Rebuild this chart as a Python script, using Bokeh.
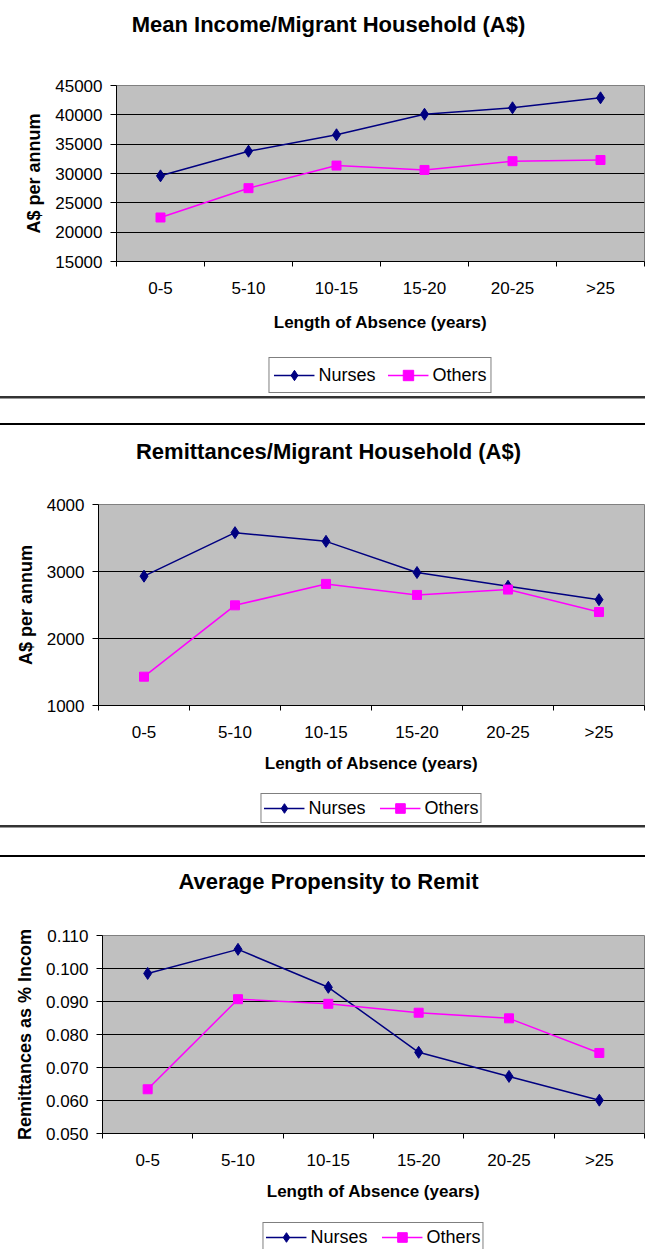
from bokeh.plotting import figure
from bokeh.models import (Range1d, FixedTicker, NumeralTickFormatter, Legend,
                          LegendItem, Div)
from bokeh.layouts import column
from bokeh.embed import file_html
from bokeh.resources import INLINE

# ---------------- data ----------------
categories = ["0-5", "5-10", "10-15", "15-20", "20-25", ">25"]
series_names = ["Nurses", "Others"]

income_nurses = [29600, 33800, 36600, 40100, 41200, 42900]
income_others = [22500, 27500, 31350, 30600, 32100, 32300]
income_ticks = [15000, 20000, 25000, 30000, 35000, 40000, 45000]

remit_nurses = [2930, 3580, 3450, 2985, 2780, 2580]
remit_others = [1430, 2495, 2815, 2650, 2730, 2395]
remit_ticks = [1000, 2000, 3000, 4000]

prop_nurses = [0.0985, 0.1058, 0.0943, 0.0746, 0.0673, 0.0601]
prop_others = [0.0634, 0.0907, 0.0893, 0.0866, 0.0849, 0.0744]
prop_ticks = [0.050, 0.060, 0.070, 0.080, 0.090, 0.100, 0.110]

chart_titles = ["Mean Income/Migrant Household (A$)",
                "Remittances/Migrant Household (A$)",
                "Average Propensity to Remit"]
y_titles = ["A$ per annum", "A$ per annum", "Remittances as % Incom"]
x_title = "Length of Absence (years)"

FONT = "Liberation Sans"
NAVY = "#000080"
MAGENTA = "#FF00FF"
W = 645
AXIS_SPACE = 72


def style_lines(p, xs, nurses, others):
    l1 = p.line(xs, nurses, line_color=NAVY, line_width=1.5)
    s1 = p.scatter(xs, nurses, marker="diamond", size=12,
                   fill_color=NAVY, line_color=NAVY)
    l2 = p.line(xs, others, line_color=MAGENTA, line_width=1.5)
    s2 = p.scatter(xs, others, marker="square", size=9,
                   fill_color=MAGENTA, line_color=MAGENTA)
    return l1, s1, l2, s2


def title_div(text, h):
    html = (f'<div style="width:645px;height:{h}px;line-height:{h}px;'
            'text-align:center;white-space:nowrap;font-family:Liberation Sans;'
            'font-weight:bold;font-size:22px;color:#000;">'
            f'<span style="position:relative;left:6px">{text}</span></div>')
    return Div(text=html, width=W, height=h, margin=0, disable_math=True)


def make_chart(ytitle, nurses, others, ticks, fmt, title_h,
               frame_left, frame_top, frame_bottom, xlabel_standoff):
    n = len(categories)
    xs = [i + 0.5 for i in range(n)]
    p = figure(width=W, height=frame_bottom - title_h + AXIS_SPACE,
               x_range=Range1d(0, n),
               y_range=Range1d(ticks[0], ticks[-1]),
               output_backend="svg", toolbar_location=None,
               min_border_left=frame_left, min_border_right=1,
               min_border_top=frame_top - title_h,
               min_border_bottom=AXIS_SPACE,
               background_fill_color="#C0C0C0", border_fill_color="white",
               outline_line_color="#808080", outline_line_width=1)
    p.frame_align = False
    p.title.visible = False
    p.title.standoff = 0

    # x axis: labels at category centres, tick marks at category boundaries
    xa = p.xaxis[0]
    xa.ticker = FixedTicker(ticks=xs, minor_ticks=list(range(n + 1)))
    xa.major_label_overrides = {x: c for x, c in zip(xs, categories)}
    xa.major_tick_line_color = None
    xa.major_tick_out = 0
    xa.major_tick_in = 0
    xa.minor_tick_line_color = "black"
    xa.minor_tick_out = 5
    xa.minor_tick_in = 0
    xa.axis_line_color = "black"
    xa.major_label_text_font = FONT
    xa.major_label_text_font_size = "17px"
    xa.major_label_text_color = "black"
    xa.major_label_standoff = 12
    xa.axis_label = x_title
    xa.axis_label_text_font = FONT
    xa.axis_label_text_font_style = "bold"
    xa.axis_label_text_font_size = "17px"
    xa.axis_label_text_color = "black"
    xa.axis_label_standoff = xlabel_standoff

    ya = p.yaxis[0]
    ya.ticker = FixedTicker(ticks=ticks, minor_ticks=[])
    if fmt:
        ya.formatter = NumeralTickFormatter(format=fmt)
    ya.major_tick_out = 6
    ya.major_tick_in = 0
    ya.major_tick_line_color = "black"
    ya.axis_line_color = "black"
    ya.major_label_text_font = FONT
    ya.major_label_text_font_size = "17px"
    ya.major_label_text_color = "black"
    ya.major_label_standoff = 8
    ya.axis_label = ytitle
    ya.axis_label_text_font = FONT
    ya.axis_label_text_font_style = "bold"
    ya.axis_label_text_font_size = "18px"
    ya.axis_label_text_color = "black"
    ya.axis_label_standoff = 8

    p.xgrid.grid_line_color = None
    p.ygrid.ticker = FixedTicker(ticks=ticks)
    p.ygrid.grid_line_color = "black"
    p.ygrid.grid_line_width = 1

    style_lines(p, xs, nurses, others)
    return p


def make_legend(block_h, frame_left, frame_bottom, legend_top, pad,
                glyph_h, spacing, nurses, others):
    n = len(categories)
    xs = [i + 0.5 for i in range(n)]
    top = frame_bottom + AXIS_SPACE
    # the series are drawn outside this strip's visible range; only the
    # legend (which uses their styles) shows
    lp = figure(width=W, height=block_h - top, x_range=Range1d(-2, -1),
                y_range=Range1d(-2, -1), output_backend="svg",
                toolbar_location=None, x_axis_location=None,
                y_axis_location=None, min_border_left=frame_left,
                min_border_right=1, min_border_top=0, min_border_bottom=0,
                outline_line_color=None, background_fill_color="white",
                border_fill_color="white")
    lp.frame_align = False
    lp.title.visible = False
    lp.xgrid.visible = False
    lp.ygrid.visible = False
    l1, s1, l2, s2 = style_lines(lp, xs, nurses, others)
    legend = Legend(items=[LegendItem(label=series_names[0], renderers=[l1, s1]),
                           LegendItem(label=series_names[1], renderers=[l2, s2])],
                    orientation="horizontal", location="top_center",
                    border_line_color="black", border_line_width=1,
                    background_fill_color="white", background_fill_alpha=1,
                    label_text_font=FONT, label_text_font_size="18px",
                    label_text_color="black",
                    glyph_width=41, glyph_height=glyph_h, label_standoff=4,
                    spacing=spacing, padding=pad, margin=legend_top - top)
    lp.add_layout(legend)
    return lp


# chart 1: page y 0..396
t1 = title_div(chart_titles[0], 49)
p1 = make_chart(y_titles[0], income_nurses, income_others, income_ticks, None,
                49, 116, 85, 262, 12)
g1 = make_legend(396, 116, 262, 357, 4, 26, 12, income_nurses, income_others)
# chart 2: page y 426..825
t2 = title_div(chart_titles[1], 52)
p2 = make_chart(y_titles[1], remit_nurses, remit_others, remit_ticks, None,
                52, 98, 78, 279, 9)
g2 = make_legend(399, 98, 279, 367, 2, 24, 14, remit_nurses, remit_others)
# chart 3: page y 857..1249
t3 = title_div(chart_titles[2], 50)
p3 = make_chart(y_titles[2], prop_nurses, prop_others, prop_ticks, "0.000",
                50, 102, 78, 276, 9)
g3 = make_legend(392, 102, 276, 365, 2, 24, 14, prop_nurses, prop_others)


def separator(gap, height):
    html = ('<div style="width:645px;height:2px;background:#333"></div>'
            '<div style="width:645px;height:1px;background:#999"></div>'
            f'<div style="width:645px;height:{gap}px"></div>'
            '<div style="width:645px;height:2px;background:#000"></div>')
    return Div(text=html, width=W, height=height, margin=0)


sep1 = separator(24, 30)
sep2 = separator(27, 32)

layout = column(t1, p1, g1, sep1, t2, p2, g2, sep2, t3, p3, g3, spacing=0)

open("out.html", "w").write(file_html(layout, INLINE))
